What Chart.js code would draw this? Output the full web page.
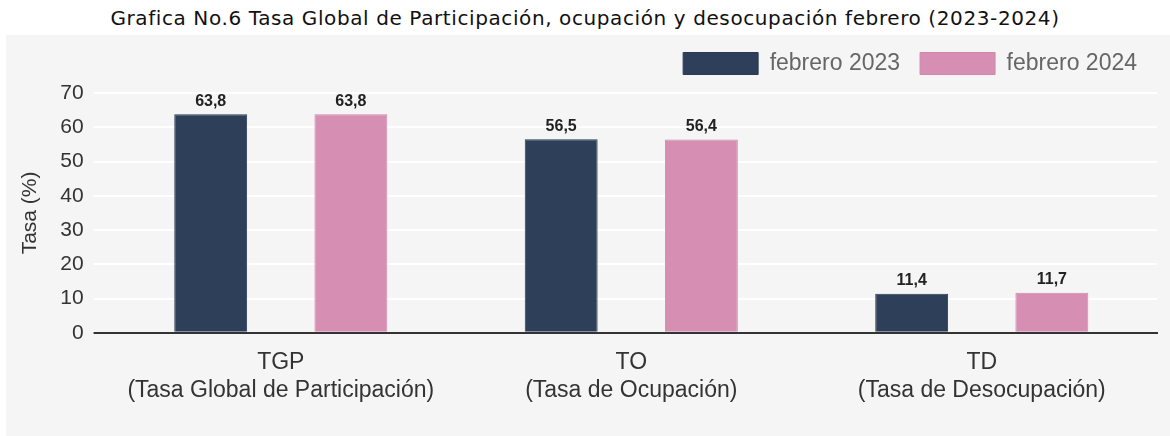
<!DOCTYPE html>
<html>
<head>
<meta charset="utf-8">
<script src="https://cdn.jsdelivr.net/npm/chart.js@4.4.1/dist/chart.umd.min.js"></script>
<style>
  html, body { margin: 0; padding: 0; background: #fff; }
  #title {
    height: 35px; line-height: 37px; text-align: center;
    font-family: "DejaVu Sans", Verdana, sans-serif; font-size: 20px; letter-spacing: 0.6px; color: #111;
  }
  #panel { position: absolute; left: 6px; top: 35px; width: 1164px; height: 401px; background: #f5f5f5; }
</style>
</head>
<body>
<div id="title">Grafica No.6 Tasa Global de Participación, ocupación y desocupación febrero (2023-2024)</div>
<div id="panel"><canvas id="chart" width="1164" height="401"></canvas></div>
<script>
// --- data ---
const categories = [
    ['TGP', '(Tasa Global de Participación)'],
    ['TO', '(Tasa de Ocupación)'],
    ['TD', '(Tasa de Desocupación)']
];
const feb2023 = [63.8, 56.5, 11.4];
const feb2024 = [63.8, 56.4, 11.7];
const seriesNames = ['febrero 2023', 'febrero 2024'];
const yTicks = [0, 10, 20, 30, 40, 50, 60, 70];

const FONT = '"Liberation Sans", Arial, sans-serif';

// value labels above each bar, decimal comma
const valueLabels = {
    id: 'valueLabels',
    afterDatasetsDraw(chart) {
        const ctx = chart.ctx;
        ctx.save();
        ctx.font = 'bold 16px ' + FONT;
        ctx.fillStyle = '#222';
        ctx.textAlign = 'center';
        ctx.textBaseline = 'bottom';
        chart.data.datasets.forEach((ds, i) => {
            chart.getDatasetMeta(i).data.forEach((bar, j) => {
                ctx.fillText(ds.data[j].toFixed(1).replace('.', ','), bar.x, bar.y - 5);
            });
        });
        ctx.restore();
    }
};

// legend sits high in the panel; leave extra room under it before the plot
const legendFit = {
    id: 'legendFit',
    beforeInit(chart) {
        const fit = chart.legend.fit;
        chart.legend.fit = function () {
            fit.call(this);
            this.height += 8;
        };
    }
};

new Chart(document.getElementById('chart'), {
    type: 'bar',
    data: {
        labels: categories,
        datasets: [{
            label: seriesNames[0],
            data: feb2023,
            backgroundColor: '#2e4059',
            borderColor: '#2a3b55',
            borderWidth: 1
        }, {
            label: seriesNames[1],
            data: feb2024,
            backgroundColor: '#d68fb2',
            borderColor: '#cf88ab',
            borderWidth: 1
        }]
    },
    options: {
        responsive: false,
        animation: false,
        categoryPercentage: 0.8,
        barPercentage: 0.52,
        layout: { padding: { left: 0, right: 13, top: -3, bottom: 24 } },
        scales: {
            x: {
                grid: { display: false },
                border: { color: '#333', width: 2 },
                ticks: { color: '#333', font: { family: FONT, size: 23 }, padding: 8 }
            },
            y: {
                min: 0, max: 70,
                afterBuildTicks: axis => { axis.ticks = yTicks.map(v => ({ value: v })); },
                grid: {
                    color: c => c.tick && c.tick.value === 0 ? '#333' : '#fff',
                    lineWidth: 2,
                    tickLength: 12
                },
                border: { display: false },
                ticks: { color: '#333', font: { family: FONT, size: 21 }, padding: 10 },
                title: { display: true, text: 'Tasa (%)', color: '#333', font: { family: FONT, size: 21 }, padding: { top: 12, bottom: 7 } }
            }
        },
        plugins: {
            legend: {
                align: 'end',
                labels: {
                    boxWidth: 75, boxHeight: 22,
                    color: '#666', font: { family: FONT, size: 23 },
                    padding: 20
                }
            },
            tooltip: { enabled: false }
        }
    },
    plugins: [valueLabels, legendFit]
});
</script>
</body>
</html>
